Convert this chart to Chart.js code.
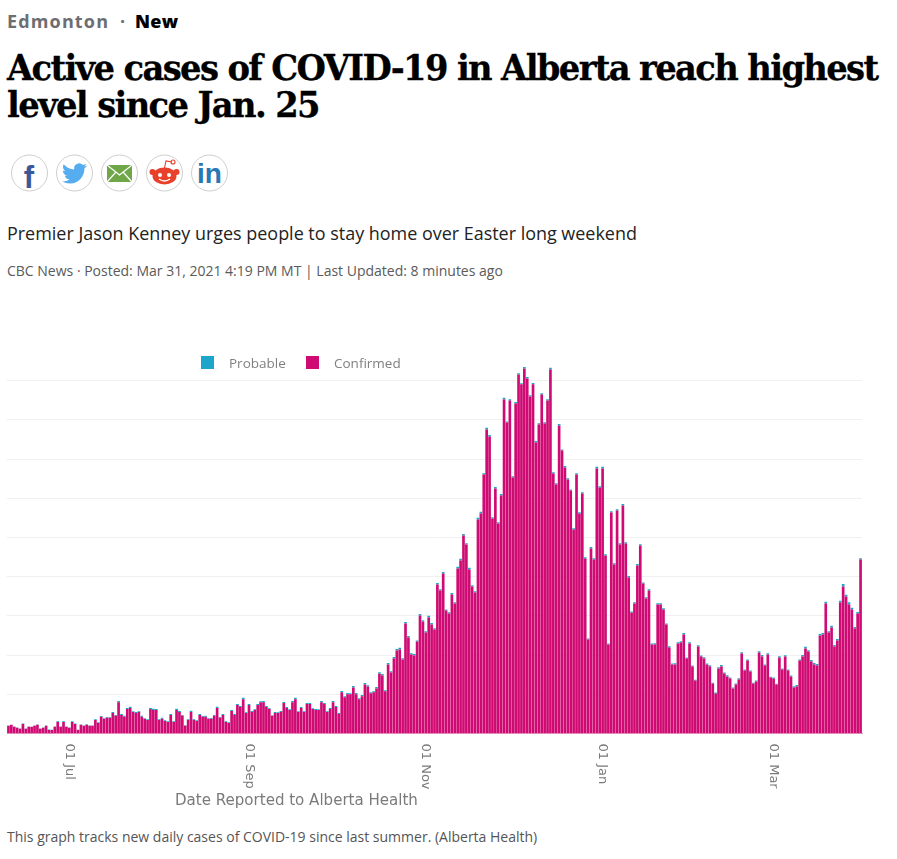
<!DOCTYPE html>
<html>
<head>
<meta charset="utf-8">
<title>Active cases of COVID-19 in Alberta</title>
<script src="https://cdn.jsdelivr.net/npm/chart.js@4/dist/chart.umd.min.js"></script>
<style>
  html, body { margin: 0; padding: 0; background: #fff; }
  body { width: 897px; height: 859px; position: relative; overflow: hidden; font-family: "Open Sans", sans-serif; }
  .abs { position: absolute; white-space: nowrap; }
  #section { left: 7px; top: 8px; font-size: 18px; font-weight: 700; line-height: 26px; color: #6d6e71; letter-spacing: 1.15px; }
  #section b { color: #000; letter-spacing: .3px; margin-left: 3px; }
  #section i { font-style: normal; margin-left: 5px; }
  h1 { left: 7px; top: 49px; margin: 0; font-family: "DejaVu Serif", serif; font-weight: 700; font-size: 36px; line-height: 37px; letter-spacing: -1.75px; color: #000; -webkit-text-stroke: .3px #000; transform: scaleX(.938); transform-origin: left top; }
  #sub { left: 7px; top: 221px; font-size: 17.95px; line-height: 24px; color: #222; }
  #meta { left: 7px; top: 261px; font-size: 14px; line-height: 20px; color: #5a5a5a; }
  #caption { left: 7px; top: 827px; font-size: 14px; line-height: 20px; color: #555; }
  #xtitle { left: 175px; top: 790px; font-family: "DejaVu Sans", sans-serif; font-size: 15.05px; line-height: 20px; color: #7a7a7a; }
  canvas { position: absolute; left: 0; top: 300px; }
  .swatch { position: absolute; width: 13px; height: 13px; top: 356px; }
  .legtext { top: 354px; font-size: 13.5px; line-height: 18px; color: #808080; }
  svg { position: absolute; left: 0; top: 150px; }
</style>
</head>
<body>
<div class="abs" id="section">Edmonton <i>·</i> <b>New</b></div>
<h1 class="abs">Active cases of COVID-19 in Alberta reach highest<br>level since Jan. 25</h1>

<svg width="240" height="46" viewBox="0 0 240 46">
  <g fill="#fff" stroke="#cfcfcf" stroke-width="1">
    <circle cx="29.5" cy="23" r="18"/><circle cx="74.5" cy="23" r="18"/><circle cx="119.5" cy="23" r="18"/><circle cx="164.5" cy="23" r="18"/><circle cx="209.5" cy="23" r="18"/>
  </g>
  <text x="29" y="38" text-anchor="middle" font-family="Liberation Sans" font-weight="700" font-size="31" fill="#3b5998">f</text>
  <g transform="translate(62,11) scale(1.04)"><path fill="#55acee" d="M23.953 4.57a10 10 0 01-2.825.775 4.958 4.958 0 002.163-2.723c-.951.555-2.005.959-3.127 1.184a4.92 4.92 0 00-8.384 4.482C7.69 8.095 4.067 6.13 1.64 3.162a4.822 4.822 0 00-.666 2.475c0 1.71.87 3.213 2.188 4.096a4.904 4.904 0 01-2.228-.616v.06a4.923 4.923 0 003.946 4.827 4.996 4.996 0 01-2.212.085 4.936 4.936 0 004.604 3.417 9.867 9.867 0 01-6.102 2.105c-.39 0-.779-.023-1.17-.067a13.995 13.995 0 007.557 2.209c9.053 0 13.998-7.496 13.998-13.985 0-.21 0-.42-.015-.63A9.935 9.935 0 0024 4.59z"/></g>
  <rect x="107" y="15" width="25" height="17" fill="#6fa648"/>
  <path d="M107 15 L119.5 25 L132 15 M107 32 L116 22 M132 32 L123 22" fill="none" stroke="#fff" stroke-width="1.2"/>
  <ellipse cx="164.5" cy="26" rx="12" ry="8.5" fill="#e8402a"/>
  <circle cx="152.5" cy="22" r="3" fill="#e8402a"/><circle cx="176.5" cy="22" r="3" fill="#e8402a"/>
  <circle cx="160" cy="25" r="2" fill="#fff"/><circle cx="169" cy="25" r="2" fill="#fff"/>
  <path d="M159 29 Q164.5 33 170 29" fill="none" stroke="#fff" stroke-width="1.3"/>
  <path d="M164.5 18 L166 11 L172 12" fill="none" stroke="#e8402a" stroke-width="1.1"/>
  <circle cx="173" cy="12" r="2" fill="none" stroke="#e8402a" stroke-width="1.1"/>
  <text x="209.5" y="33" text-anchor="middle" font-family="Liberation Sans" font-weight="700" font-size="28" fill="#2a77b5">in</text>
</svg>

<div class="abs" id="sub">Premier Jason Kenney urges people to stay home over Easter long weekend</div>
<div class="abs" id="meta">CBC News · Posted: Mar 31, 2021 4:19 PM MT | Last Updated: 8 minutes ago</div>

<canvas id="casesChart" width="897" height="500"></canvas>

<div class="swatch" id="probSwatch" style="left:201px"></div>
<div class="abs legtext" style="left:229px">Probable</div>
<div class="swatch" id="confSwatch" style="left:306px"></div>
<div class="abs legtext" style="left:334px">Confirmed</div>

<div class="abs" id="xtitle">Date Reported to Alberta Health</div>
<div class="abs" id="caption">This graph tracks new daily cases of COVID-19 since last summer. (Alberta Health)</div>

<script>
const tickLabels = ['01 Jul', '01 Sep', '01 Nov', '01 Jan', '01 Mar'];
const monthNames = ['Jan', 'Feb', 'Mar', 'Apr', 'May', 'Jun', 'Jul', 'Aug', 'Sep', 'Oct', 'Nov', 'Dec'];
const yTicks = [0, 200, 400, 600, 800, 1000, 1200, 1400, 1600, 1800];

// one bar per day from 10 Jun 2020 to 31 Mar 2021
const confirmed = [
  39, 44, 34, 29, 24, 49, 24, 34, 34, 39,
  44, 24, 29, 39, 18, 18, 34, 59, 34, 59,
  34, 29, 59, 49, 18, 44, 39, 44, 39, 39,
  69, 54, 85, 75, 80, 80, 105, 90, 160, 95,
  85, 125, 130, 110, 105, 110, 85, 75, 69, 125,
  120, 120, 69, 75, 64, 59, 95, 59, 120, 110,
  90, 39, 69, 110, 69, 64, 95, 85, 85, 75,
  75, 90, 130, 80, 95, 59, 54, 115, 95, 145,
  135, 175, 105, 145, 110, 120, 145, 160, 160, 135,
  125, 90, 105, 105, 110, 155, 130, 120, 160, 175,
  110, 130, 110, 150, 150, 125, 120, 120, 160, 150,
  110, 125, 160, 135, 100, 210, 185, 200, 200, 235,
  200, 175, 190, 250, 240, 205, 210, 230, 305, 296,
  215, 352, 311, 383, 423, 429, 378, 561, 490, 403,
  398, 469, 602, 571, 515, 592, 556, 531, 760, 729,
  816, 627, 612, 709, 663, 842, 882, 1010, 964, 837,
  750, 719, 1092, 1122, 1321, 1551, 1515, 1097, 1250, 1071,
  1214, 1704, 1586, 1698, 1306, 1683, 1831, 1781, 1862, 1811,
  1719, 1781, 1484, 1576, 1729, 1581, 1698, 1857, 1326, 1270,
  1571, 1443, 1357, 1296, 1239, 1041, 1321, 1122, 1224, 893,
  480, 944, 888, 1352, 1255, 1352, 908, 454, 1127, 862,
  1137, 964, 1163, 969, 796, 617, 663, 857, 959, 765,
  689, 729, 454, 454, 658, 658, 633, 556, 439, 352,
  352, 459, 464, 505, 383, 459, 342, 270, 444, 393,
  383, 352, 342, 255, 204, 332, 342, 306, 291, 281,
  230, 250, 276, 408, 321, 372, 316, 255, 265, 413,
  393, 347, 403, 286, 281, 250, 388, 327, 393, 321,
  291, 235, 240, 372, 393, 434, 418, 367, 352, 347,
  500, 505, 663, 515, 541, 444, 474, 668, 750, 699,
  658, 633, 536, 612, 887
];
const probable = [
  2, 1, 2, 1, 2, 2, 1, 2, 1, 2,
  2, 1, 1, 2, 2, 1, 2, 3, 2, 3,
  2, 1, 3, 2, 1, 2, 2, 3, 2, 2,
  4, 3, 4, 3, 4, 3, 5, 4, 6, 4,
  5, 5, 6, 4, 5, 4, 5, 3, 4, 5,
  6, 5, 4, 5, 3, 4, 5, 4, 6, 5,
  4, 3, 4, 6, 4, 3, 5, 4, 5, 3,
  4, 5, 6, 4, 5, 4, 3, 5, 4, 6,
  5, 7, 4, 6, 5, 4, 6, 5, 6, 5,
  4, 3, 5, 4, 5, 6, 5, 4, 6, 7,
  4, 5, 4, 6, 5, 4, 5, 4, 6, 5,
  4, 5, 6, 5, 4, 7, 5, 6, 5, 7,
  6, 5, 6, 7, 6, 5, 6, 7, 8, 7,
  5, 8, 6, 7, 8, 9, 6, 8, 7, 6,
  7, 6, 8, 7, 6, 8, 7, 6, 8, 7,
  8, 6, 7, 8, 7, 8, 9, 8, 7, 8,
  6, 7, 8, 9, 7, 8, 8, 6, 7, 6,
  7, 8, 6, 7, 6, 8, 7, 6, 8, 7,
  6, 7, 8, 6, 7, 6, 7, 8, 6, 7,
  8, 6, 7, 6, 5, 6, 7, 6, 7, 6,
  5, 7, 6, 8, 6, 8, 6, 5, 7, 6,
  7, 6, 8, 6, 7, 5, 6, 7, 6, 5,
  6, 7, 5, 6, 7, 6, 6, 5, 6, 5,
  6, 7, 6, 7, 5, 6, 5, 4, 6, 5,
  6, 5, 6, 4, 5, 6, 7, 5, 6, 5,
  4, 5, 6, 7, 5, 6, 5, 4, 5, 6,
  7, 5, 6, 4, 5, 4, 6, 5, 6, 5,
  5, 6, 7, 6, 7, 8, 7, 8, 7, 8,
  8, 7, 9, 7, 8, 7, 8, 9, 12, 9,
  11, 9, 7, 8, 7
];

const probableColor = '#1ca6cb';
const confirmedColor = '#cf0a72';

document.getElementById('probSwatch').style.background = probableColor;
document.getElementById('confSwatch').style.background = confirmedColor;

const dates = [];
for (let i = 0; i < confirmed.length; i++) {
  const d = new Date(Date.UTC(2020, 5, 10 + i));
  dates.push(String(d.getUTCDate()).padStart(2, '0') + ' ' + monthNames[d.getUTCMonth()]);
}

const ctx = document.querySelector('#casesChart').getContext('2d');
const chart = new Chart(ctx, {
  type: 'bar',
  data: {
    labels: dates,
    datasets: [
      { label: 'Confirmed', data: confirmed, backgroundColor: confirmedColor },
      { label: 'Probable', data: probable, backgroundColor: probableColor }
    ]
  },
  options: {
    responsive: false,
    animation: false,
    devicePixelRatio: 1,
    layout: { padding: { left: 7, right: 35, top: 61, bottom: 0 } },
    datasets: { bar: { barPercentage: 0.92, categoryPercentage: 1 } },
    plugins: { legend: { display: false }, title: { display: false }, tooltip: { enabled: false } },
    scales: {
      x: {
        stacked: true,
        afterFit: function(scale) { scale.height = 66.5; },
        grid: { display: false },
        border: { display: true, color: 'rgba(207,10,114,0.45)' },
        ticks: {
          autoSkip: false,
          minRotation: -90,
          maxRotation: -90,
          padding: 2,
          labelOffset: 0,
          color: '#7a7a7a',
          font: { family: '"DejaVu Sans"', size: 13 },
          callback: function(value) {
            const lab = this.getLabelForValue(value);
            return tickLabels.includes(lab) ? lab : '';
          }
        }
      },
      y: {
        stacked: true,
        min: 0,
        max: 1900,
        afterBuildTicks: function(scale) { scale.ticks = yTicks.map(v => ({ value: v })); },
        afterFit: function(scale) { scale.width = 0; },
        grid: { color: '#f0f0f2', drawTicks: false },
        border: { display: false },
        ticks: { display: false }
      }
    }
  }
});
// the labels run downward from the axis here, chart.js would right align them
chart.scales.x._getXAxisLabelAlignment = function() { return 'left'; };
chart.update('none');
</script>
</body>
</html>
